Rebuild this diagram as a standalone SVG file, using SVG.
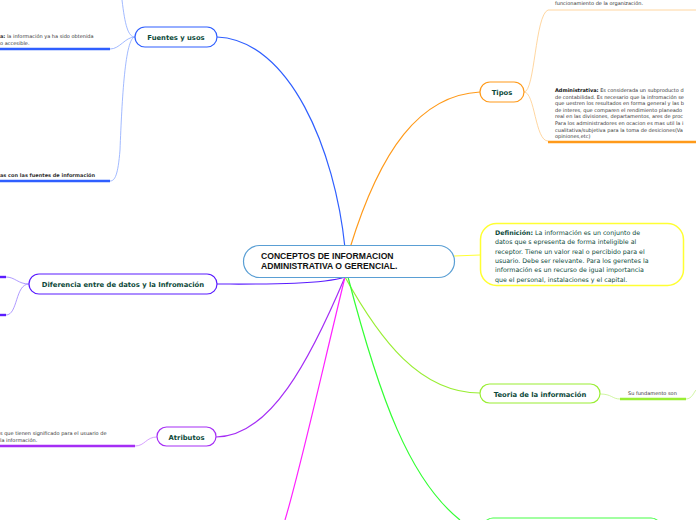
<svg xmlns="http://www.w3.org/2000/svg" width="696" height="520" viewBox="0 0 696 520">
<style>
.lbl{font-family:"DejaVu Sans",Verdana,sans-serif;font-weight:bold;font-size:6.8px;fill:#0d4a3a;text-anchor:middle}
.sm{font-family:"DejaVu Sans",Verdana,sans-serif;font-size:5px;fill:#333}
.def{font-family:"DejaVu Sans",Verdana,sans-serif;font-size:6.3px;fill:#0d4a3a}
.ctr{font-family:"Liberation Sans",Arial,sans-serif;font-weight:bold;font-size:8.6px;fill:#111}
.c{fill:none;stroke-width:1.2}
.ul{fill:none;stroke-width:2.4}
.thin{fill:none;stroke-width:0.8}
</style>
<rect width="696" height="520" fill="#fff"/>
<g id="connectors">
  <path class="c" stroke="#2f5fff" d="M345,248 C335,150 290,40 217,37"/>
  <path class="c" stroke="#ff9a1a" d="M350,248 C380,150 420,95 480,92"/>
  <path class="c" stroke="#ffff33" d="M454,256 L480,255"/>
  <path class="c" stroke="#5a1cff" d="M345,277 C320,285 260,284 217,284"/>
  <path class="c" stroke="#a52ef5" d="M345,277 C310,360 270,437 216,437"/>
  <path class="c" stroke="#ff22ff" d="M345,277 C320,380 300,470 285,520"/>
  <path class="c" stroke="#99ee33" d="M345,277 C380,340 420,393 480,393"/>
  <path class="c" stroke="#33ff33" d="M348,277 C380,400 410,480 460,520"/>
  <path class="thin" stroke="#8aa8ff" d="M135,37 C128,37 125,25 122,0"/>
  <path class="thin" stroke="#8aa8ff" d="M135,37 C125,37 120,49 110,49"/>
  <path class="thin" stroke="#8aa8ff" d="M135,37 C125,37 122,100 120,150 C118,175 115,181 110,181"/>
  <path class="ul" stroke="#2f5fff" d="M0,49 L110,49"/>
  <path class="ul" stroke="#2f5fff" d="M0,181 L110,181"/>
  <path class="thin" stroke="#ffcc88" d="M524,92 C535,92 535,15 548,10"/>
  <path class="thin" stroke="#ffcc88" d="M524,92 C535,92 535,141 548,141"/>
  <path class="thin" stroke="#ffcc88" d="M548,10 L696,10"/>
  <path class="ul" stroke="#ff9a1a" d="M548,142 L696,142"/>
  <path class="thin" stroke="#9a80ff" d="M29,284 C18,284 15,277 6,277"/>
  <path class="thin" stroke="#9a80ff" d="M29,284 C15,284 18,315 6,315"/>
  <path class="ul" stroke="#5a1cff" d="M0,277 L6,277"/>
  <path class="ul" stroke="#5a1cff" d="M0,315 L6,315"/>
  <path class="thin" stroke="#cc88ff" d="M157,437 C146,437 145,446 135,446"/>
  <path class="ul" stroke="#a52ef5" d="M0,446 L135,446"/>
  <path class="thin" stroke="#c4f28a" d="M600,394 C612,394 612,399 620,399"/>
  <path class="ul" stroke="#99ee33" d="M620,399 L686,399"/>
  <path class="thin" stroke="#c4f28a" d="M686,399 C692,399 694,392 696,390"/>
</g>
<g id="center">
  <rect x="243.5" y="245.5" width="211" height="32" rx="16" fill="#fff" stroke="#5a9fd4" stroke-width="1.2"/>
  <text class="ctr" x="261" y="259">CONCEPTOS DE INFORMACION</text>
  <text class="ctr" x="261" y="269">ADMINISTRATIVA O GERENCIAL.</text>
</g>
<g id="fuentes">
  <rect x="135" y="27" width="82" height="20" rx="10" fill="#fff" stroke="#2f5fff" stroke-width="1.2"/>
  <text class="lbl" x="176" y="39.5">Fuentes y usos</text>
  <text class="sm" x="0" y="38"><tspan font-weight="bold">a:</tspan> la información ya ha sido obtenida</text>
  <text class="sm" x="0" y="45">o accesible.</text>
  <text class="sm" x="0" y="177" font-weight="bold" fill="#111" font-size="4.8">as con las fuentes de información</text>
</g>
<g id="tipos">
  <rect x="480" y="82" width="44" height="20" rx="10" fill="#fff" stroke="#ff9a1a" stroke-width="1.2"/>
  <text class="lbl" x="502" y="94.5">Tipos</text>
  <text class="sm" x="555" y="5">funcionamiento de la organización.</text>
  <text class="sm" x="555" y="92"><tspan font-weight="bold" fill="#111">Administrativa:</tspan> Es considerada un subproducto d</text>
  <text class="sm" x="555" y="98.6">de contabilidad. Es necesario que la infromación se</text>
  <text class="sm" x="555" y="105.2">que uestren los resultados en forma general y las b</text>
  <text class="sm" x="555" y="111.8">de interes, que comparen el rendimiento planeado</text>
  <text class="sm" x="555" y="118.4">real en las divisiones, departamentos, ares de proc</text>
  <text class="sm" x="555" y="125">Para los administradores en ocacion es mas util la i</text>
  <text class="sm" x="555" y="131.6">cualitativa/subjetiva para la toma de desiciones(Va</text>
  <text class="sm" x="555" y="138.2">opiniones,etc)</text>
</g>
<g id="definicion">
  <rect x="480.5" y="223.5" width="203" height="62" rx="16" fill="#fff" stroke="#ffff33" stroke-width="1.5"/>
  <text class="def" x="495" y="235"><tspan font-weight="bold">Definición:</tspan> La información es un conjunto de</text>
  <text class="def" x="495" y="244.3">datos que s epresenta de forma inteligible al</text>
  <text class="def" x="495" y="253.6">receptor. Tiene un valor real o percibido para el</text>
  <text class="def" x="495" y="262.9">usuario. Debe ser relevante. Para los gerentes la</text>
  <text class="def" x="495" y="272.2">información es un recurso de igual importancia</text>
  <text class="def" x="495" y="281.5">que el personal, instalaciones y el capital.</text>
</g>
<g id="diferencia">
  <rect x="29" y="274" width="188" height="20" rx="10" fill="#fff" stroke="#5a1cff" stroke-width="1.2"/>
  <text class="lbl" x="123" y="286.5">Diferencia entre de datos y la Infromación</text>
</g>
<g id="atributos">
  <rect x="157" y="427" width="59" height="19" rx="9.5" fill="#fff" stroke="#a52ef5" stroke-width="1.2"/>
  <text class="lbl" x="186.5" y="439.5">Atributos</text>
  <text class="sm" x="0" y="435">s que tienen significado para el usuario de</text>
  <text class="sm" x="0" y="442">la información.</text>
</g>
<g id="teoria">
  <rect x="480" y="384" width="120" height="19" rx="9.5" fill="#fff" stroke="#99ee33" stroke-width="1.2"/>
  <text class="lbl" x="540" y="396.5">Teoria de la información</text>
  <text class="sm" x="628" y="395">Su fundamento son</text>
</g>
<g id="bottom-node">
  <rect x="483" y="518" width="178" height="20" rx="10" fill="#fff" stroke="#44ff44" stroke-width="1.2"/>
</g>
</svg>
